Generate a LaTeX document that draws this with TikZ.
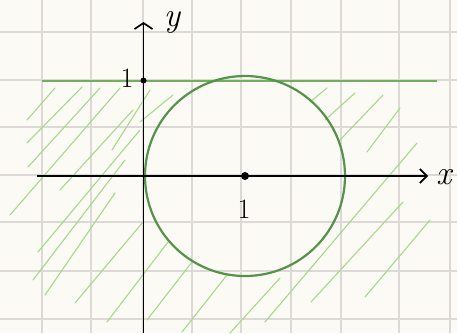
\documentclass[tikz,border=0pt]{standalone}
\usepackage{fontspec}
\usetikzlibrary{arrows.meta}
\definecolor{paper}{HTML}{FCFAF5}
\definecolor{gridc}{HTML}{DCD9D6}
\definecolor{curvec}{HTML}{55934A}
\definecolor{linec}{HTML}{72AE5E}
\definecolor{hatchc}{HTML}{A6D98A}
\tikzset{
  gridline/.style={gridc, line width=2.2pt},
  axis/.style={black, line width=1.7pt},
  hatch/.style={hatchc, line width=1.1pt, line cap=round},
  curve/.style={curvec, line width=2.2pt},
  lbl/.style={inner sep=0pt, font=\fontsize{28}{28}\selectfont},
  dotnode/.style={circle, fill=black, inner sep=0pt, minimum size=#1},
}
\begin{document}
\begin{tikzpicture}[x=1pt,y=-1pt]
\useasboundingbox (0,0) rectangle (457,333);
\fill[paper] (0,0) rectangle (457,333);
% grid
\foreach \gx in {42,91,143,192,241,291,341,399,450}
  \draw[gridline] (\gx,0) -- (\gx,333);
\foreach \gy in {32,80,127,175,222,271,319}
  \draw[gridline] (0,\gy) -- (457,\gy);
% hatching
\foreach \ax/\ay/\bx/\by in {
  27/120/55/88, 27/143/82/87, 28/167/100/88, 10/215/120/88,
  38/252/140/130, 33/280/125/160, 45/295/115/193, 75/303/143/222,
  107/322/168/242, 112/150/150/90, 140/122/173/95, 60/190/133/110,
  147/320/192/262, 182/332/227/275, 230/333/280/278,
  265/322/417/143, 311/302/403/202, 365/297/430/220,
  310/102/327/88, 325/120/355/93, 340/140/383/95, 367/152/400/108}
  \draw[hatch] (\ax,\ay) -- (\bx,\by);
% line y = 1
\coordinate (hl) at (42,80.5);
\coordinate (hr) at (437,80.5);
\draw[linec, line width=2pt] (hl) -- (hr);
% circle
\coordinate (c) at (245,176);
\draw[curve] (c) circle[radius=100];
% axes
\coordinate (xs) at (37,176);
\coordinate (xe) at (428,176);
\coordinate (ys) at (143.5,333);
\coordinate (ye) at (143.5,22);
\draw[axis, -{Straight Barb[length=7pt,width=14pt,line width=1.7pt]}] (xs) -- (xe);
\draw[axis, -{Straight Barb[length=6pt,width=18pt,line width=1.7pt]}] (ys) -- (ye);
% dots and labels
\node[dotnode=6pt] (d1) at (143.5,80.5) {};
\node[dotnode=8pt] (d2) at (245,176) {};
\node[lbl] (one1) at (127,78) {1};
\node[lbl] (one2) at (244,209) {1};
\node[lbl, font=\fontsize{34}{34}\selectfont\itshape] (ylab) at (172,22) {y};
\node[lbl, font=\fontsize{34}{34}\selectfont\itshape, anchor=west] (xlab) at (436,177) {x};
\end{tikzpicture}
\end{document}
